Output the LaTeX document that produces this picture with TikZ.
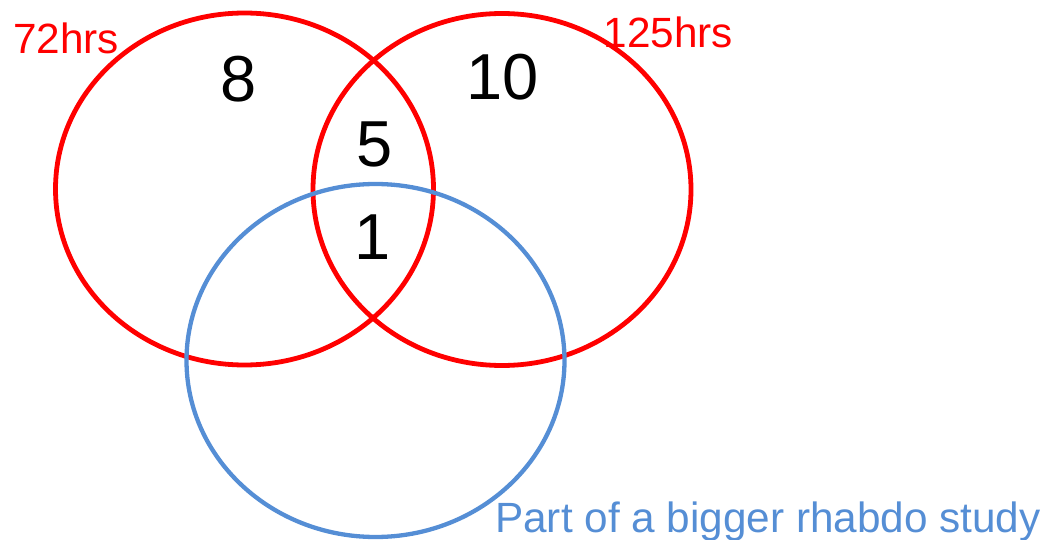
\documentclass[tikz,border=0pt]{standalone}
\usepackage{fontspec}
\setmainfont{Liberation Sans}
\usetikzlibrary{shapes.geometric}
\definecolor{vblue}{RGB}{85,142,213}
\tikzset{
  redset/.style={draw=red, line width=4.8pt, ellipse, inner sep=0pt, minimum width=378pt, minimum height=352pt},
  blueset/.style={draw=vblue, line width=4.3pt, ellipse, inner sep=0pt, minimum width=378pt, minimum height=353pt},
  count/.style={inner sep=0pt, anchor=base, font=\fontsize{65}{65}\selectfont},
  setlabel/.style={inner sep=0pt, anchor=base west, font=\fontsize{42.3}{42.3}\selectfont}
}
\begin{document}
\begin{tikzpicture}[x=1pt,y=-1pt]
\useasboundingbox (0,0) rectangle (1047,540);
\node[redset] (A) at (244.5,189) {};
\node[redset] (B) at (502,189.5) {};
\node[blueset] (C) at (375.5,360.5) {};
\node[setlabel, text=red] (la) at (13,53.3) {72hrs};
\node[setlabel, text=red] (lb) at (603.5,48) {125hrs};
\node[setlabel, text=vblue] (lc) at (495,532) {Part of a bigger rhabdo study};
\node[count] (n8) at (239,101.7) {8};
\node[count] (n10) at (502.5,100) {10};
\node[count] (n5) at (375,167) {5};
\node[count] (n1) at (373,260) {1};
\end{tikzpicture}
\end{document}
